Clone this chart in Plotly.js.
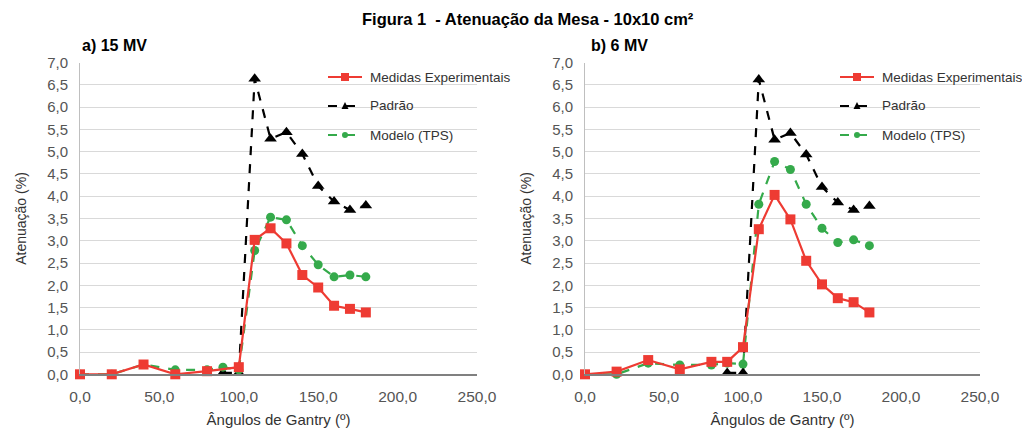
<!DOCTYPE html>
<html>
<head>
<meta charset="utf-8">
<script src="https://cdn.plot.ly/plotly-3.0.1.min.js"></script>
<style>
html,body{margin:0;padding:0;background:#fff;}
#chart{width:1022px;height:428px;}
</style>
</head>
<body>
<div id="chart"></div>
<script>
// ---- Data ----
const seriesNames = ["Medidas Experimentais", "Padrão", "Modelo (TPS)"];

// a) 15 MV
const angExp15 = [0, 20, 40, 60, 80, 100, 110, 120, 130, 140, 150, 160, 170, 180];
const valExp15 = [0, 0, 0.22, 0.0, 0.07, 0.16, 3.02, 3.28, 2.94, 2.23, 1.95, 1.54, 1.47, 1.39];
const angPad15 = [90, 100, 110, 120, 130, 140, 150, 160, 170, 180];
const valPad15 = [0.03, 0.03, 6.64, 5.29, 5.44, 4.95, 4.23, 3.88, 3.69, 3.79];
const angTps15 = [0, 20, 40, 60, 80, 90, 100, 110, 120, 130, 140, 150, 160, 170, 180];
const valTps15 = [0, 0, 0.22, 0.10, 0.10, 0.16, 0.10, 2.78, 3.53, 3.47, 2.89, 2.46, 2.19, 2.23, 2.19];

// b) 6 MV
const angExp6 = [0, 20, 40, 60, 80, 90, 100, 110, 120, 130, 140, 150, 160, 170, 180];
const valExp6 = [0, 0.06, 0.32, 0.11, 0.28, 0.28, 0.61, 3.26, 4.03, 3.48, 2.55, 2.02, 1.71, 1.62, 1.39];
const angPad6 = [90, 100, 110, 120, 130, 140, 150, 160, 170, 180];
const valPad6 = [0.03, 0.03, 6.62, 5.27, 5.42, 4.94, 4.21, 3.86, 3.69, 3.78];
const angTps6 = [0, 20, 40, 60, 80, 90, 100, 110, 120, 130, 140, 150, 160, 170, 180];
const valTps6 = [0, 0, 0.25, 0.21, 0.21, 0.25, 0.23, 3.82, 4.78, 4.60, 3.82, 3.28, 2.96, 3.02, 2.89];

const xTicks = [0, 50, 100, 150, 200, 250];
const yTicks = [0, 0.5, 1, 1.5, 2, 2.5, 3, 3.5, 4, 4.5, 5, 5.5, 6, 6.5, 7];

const texts = {
  main: "Figura 1  - Atenuação da Mesa - 10x10 cm²",
  panelA: "a) 15 MV",
  panelB: "b) 6 MV",
  xTitle: "Ângulos de Gantry (º)",
  yTitle: "Atenuação (%)"
};

// ---- Styles ----
const RED = "#ee3b33", BLACK = "#000000", GREEN = "#35aa4b";
function expTrace(x, y, xa, ya) {
  return {x: x, y: y, xaxis: xa, yaxis: ya, type: "scatter", mode: "lines+markers",
    name: seriesNames[0], showlegend: false, cliponaxis: false,
    line: {color: RED, width: 2.2}, marker: {symbol: "square", size: 10, color: RED}};
}
function padTrace(x, y, xa, ya) {
  return {x: x, y: y, xaxis: xa, yaxis: ya, type: "scatter", mode: "lines+markers",
    name: seriesNames[1], showlegend: false, cliponaxis: false,
    line: {color: BLACK, width: 2.2, dash: "dash"}, marker: {symbol: "triangle-up", size: 11, color: BLACK}};
}
function tpsTrace(x, y, xa, ya) {
  return {x: x, y: y, xaxis: xa, yaxis: ya, type: "scatter", mode: "lines+markers",
    name: seriesNames[2], showlegend: false, cliponaxis: false,
    line: {color: GREEN, width: 2.2, dash: "dash"}, marker: {symbol: "circle", size: 9, color: GREEN}};
}

const data = [
  padTrace(angPad15, valPad15, "x", "y"),
  tpsTrace(angTps15, valTps15, "x", "y"),
  expTrace(angExp15, valExp15, "x", "y"),
  padTrace(angPad6, valPad6, "x2", "y2"),
  tpsTrace(angTps6, valTps6, "x2", "y2"),
  expTrace(angExp6, valExp6, "x2", "y2")
];

// ---- Legend drawn as shapes + annotations ----
const FONT = "Liberation Sans, Arial, sans-serif";
const W = 1022, H = 428;
const axX = (px) => px / W;
const axY = (py) => 1 - py / H;

const shapes = [];
const annotations = [];

function addLegend(x0px) {
  const rows = [77, 106, 135];
  const styles = [
    {c: RED, dash: "solid"}, {c: BLACK, dash: "dash"}, {c: GREEN, dash: "dash"}
  ];
  rows.forEach((ry, i) => {
    shapes.push({type: "line", xref: "paper", yref: "paper",
      x0: axX(x0px), x1: axX(x0px + 34), y0: axY(ry), y1: axY(ry),
      line: {color: styles[i].c, width: 2, dash: styles[i].dash}});
    if (i === 0) {
      shapes.push({type: "rect", xref: "paper", yref: "paper",
        x0: axX(x0px + 13), x1: axX(x0px + 21), y0: axY(ry + 4), y1: axY(ry - 4),
        fillcolor: RED, line: {width: 0}});
    } else if (i === 1) {
      shapes.push({type: "path", xref: "paper", yref: "paper",
        path: `M ${axX(x0px + 13.5)} ${axY(ry + 3)} L ${axX(x0px + 20.5)} ${axY(ry + 3)} L ${axX(x0px + 17)} ${axY(ry - 4)} Z`,
        fillcolor: BLACK, line: {width: 0}});
    } else {
      shapes.push({type: "circle", xref: "paper", yref: "paper",
        x0: axX(x0px + 14), x1: axX(x0px + 20), y0: axY(ry + 3), y1: axY(ry - 3),
        fillcolor: GREEN, line: {width: 0}});
    }
    annotations.push({xref: "paper", yref: "paper", x: axX(x0px + 40), y: axY(ry),
      xanchor: "left", yanchor: "middle", showarrow: false,
      text: seriesNames[i], font: {family: FONT, size: 13.5, color: "#333"}});
  });
}
addLegend(328);
addLegend(840);

annotations.push({xref: "paper", yref: "paper", x: axX(528), y: axY(19), xanchor: "center", yanchor: "middle",
  showarrow: false, text: "<b>" + texts.main + "</b>", font: {family: FONT, size: 16.5, color: "#000"}});
annotations.push({xref: "paper", yref: "paper", x: axX(80), y: axY(45), xanchor: "left", yanchor: "middle",
  showarrow: false, text: "<b>" + texts.panelA + "</b>", font: {family: FONT, size: 16, color: "#000"}});
annotations.push({xref: "paper", yref: "paper", x: axX(589), y: axY(45), xanchor: "left", yanchor: "middle",
  showarrow: false, text: "<b>" + texts.panelB + "</b>", font: {family: FONT, size: 16, color: "#000"}});

function xAxis(domain) {
  return {domain: domain, range: [0, 250], tickvals: xTicks, tickformat: ".1f",
    showgrid: false, zeroline: false, showline: true, linecolor: "#808080", linewidth: 1.5,
    ticks: "", ticklabelstandoff: 8, tickfont: {family: FONT, size: 15.5, color: "#555"},
    title: {text: texts.xTitle, font: {family: FONT, size: 15, color: "#333"}, standoff: 13},
    fixedrange: true};
}
function yAxis(domain, anchor) {
  return {domain: domain, anchor: anchor, range: [0, 7], tickvals: yTicks, tickformat: ".1f",
    showgrid: true, gridcolor: "#d9d9d9", gridwidth: 1, zeroline: false,
    showline: true, linecolor: "#bfbfbf", linewidth: 1,
    ticks: "", ticklabelstandoff: 8, tickfont: {family: FONT, size: 15, color: "#555"},
    title: {text: texts.yTitle, font: {family: FONT, size: 14, color: "#333"}, standoff: 17},
    fixedrange: true};
}

const yDom = [1 - 374.3 / H, 1 - 62.7 / H];
const layout = {
  width: W, height: H,
  margin: {l: 0, r: 0, t: 0, b: 0},
  paper_bgcolor: "#fff", plot_bgcolor: "#fff",
  separators: ",.",
  showlegend: false,
  xaxis: Object.assign(xAxis([80 / W, 477 / W]), {anchor: "y"}),
  yaxis: yAxis(yDom, "x"),
  xaxis2: Object.assign(xAxis([585 / W, 980 / W]), {anchor: "y2"}),
  yaxis2: yAxis(yDom, "x2"),
  shapes: shapes,
  annotations: annotations
};

Plotly.newPlot("chart", data, layout, {displayModeBar: false, staticPlot: true});
</script>
</body>
</html>
